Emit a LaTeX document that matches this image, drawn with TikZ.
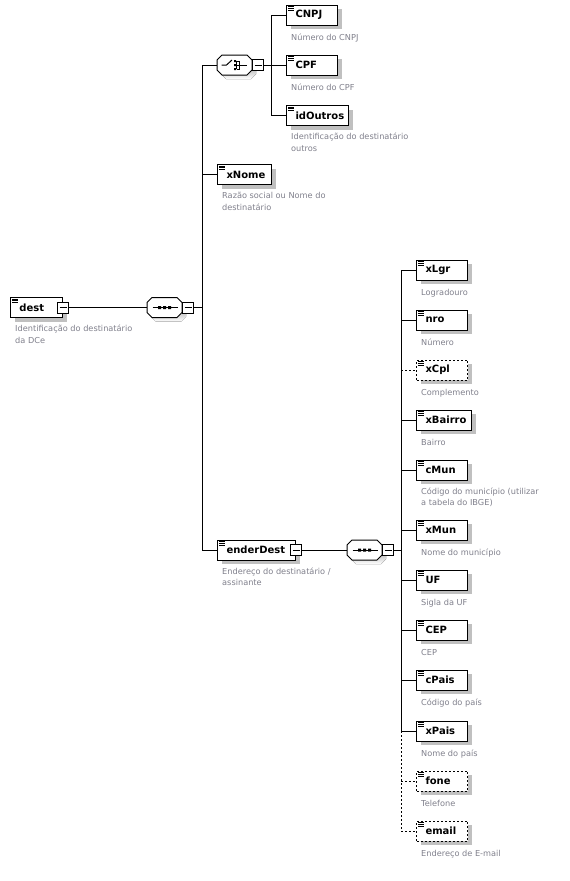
\documentclass[tikz,border=0pt]{standalone}
\usepackage{fontspec}
\setmainfont{DejaVu Sans}
\usetikzlibrary{shadows}
\definecolor{desc}{RGB}{128,128,140}
\definecolor{shade}{RGB}{192,192,192}
\newcommand\xsdelem[6][]{%
  \pgfmathsetmacro\xsdtw{#5-18}%
  \node[elem,#1,minimum width=#5pt,text width=\xsdtw pt] (#2) at (#3,#4) {#6};%
  \draw[line width=0.6pt] ([xshift=2pt,yshift=-2pt]#2.north west) -- ++(6,0)
    ([xshift=2pt,yshift=-3.7pt]#2.north west) -- ++(6,0)
    ([xshift=2pt,yshift=-5.4pt]#2.north west) -- ++(6,0);%
}
\newcommand\xsddesc[2]{%
  \node[descr,anchor=north west] (#1-d) at ([xshift=5pt,yshift=-7pt]#1.south west) {#2};%
}
\newcommand\xsdminus[2]{%
  \node[minus] (#2) at (#1) {};%
  \draw[line width=1pt] ([xshift=2.5pt]#2.west) -- ([xshift=-2.5pt]#2.east);%
}
\newcommand\xsdoct{(-12.5,-10) -- (12.5,-10) -- (17.5,-5) -- (17.5,5) -- (12.5,10) -- (-12.5,10) -- (-17.5,5) -- (-17.5,-5) -- cycle}
\newcommand\xsdcomp[3]{%
  \node[comp] (#1) at (#2,#3) {};%
  \begin{scope}[shift={(#1.center)}]
    \fill[shade,shift={(4,4)}] \xsdoct;
    \draw[line width=1pt,fill=white] \xsdoct;
  \end{scope}%
  \node[minus,anchor=west] (#1-m) at (#1.east) {};%
  \draw[line width=1pt] ([xshift=2.5pt]#1-m.west) -- ([xshift=-2.5pt]#1-m.east);%
}
\begin{document}
\begin{tikzpicture}[x=1pt,y=-1pt,
  elem/.style={draw, line width=1pt, fill=white, anchor=west, minimum height=20pt,
    inner xsep=0pt, inner ysep=0pt, align=left,
    font=\fontsize{10}{12}\selectfont\bfseries,
    drop shadow={shadow xshift=4pt,shadow yshift=-4pt,fill=shade,opacity=1}},
  opt/.style={dash pattern=on 2pt off 2pt},
  descr/.style={font=\fontsize{8.2}{11.5}\selectfont, text=desc, align=left, inner sep=0pt,
    execute at begin node=\strut},
  minus/.style={draw, line width=1pt, fill=white, minimum size=11pt, inner sep=0pt},
  comp/.style={minimum width=35pt, minimum height=20pt, inner sep=0pt},
  conn/.style={line width=1pt}]
\useasboundingbox[fill=white] (0,0) rectangle (570,881);

% root
\xsdelem{dest}{10}{307.5}{52}{dest}
\xsddesc{dest}{Identificação do destinatário\\da DCe}
\xsdminus{dest.east}{dest-m}

% sequence 1
\xsdcomp{s1}{164.5}{307.5}
\begin{scope}[shift={(s1.center)}]
  \draw[line width=1pt] (-12,0) -- (13,0);
  \fill (-6.5,-1.5) rectangle (-3.5,1.5) (-1.5,-1.5) rectangle (1.5,1.5) (3.5,-1.5) rectangle (6.5,1.5);
\end{scope}

% choice
\xsdcomp{ch}{234.5}{65}
\begin{scope}[shift={(ch.center)}]
  \draw[line width=1pt] (-13,0) -- (-8,0) -- (-2.5,-5);
  \fill (-0.5,-5) rectangle (1.5,-3) (-0.5,-1) rectangle (1.5,1) (-0.5,3) rectangle (1.5,5);
  \draw[line width=0.8pt] (2,-4) -- (2,4) (2,-4) -- (5,-4) (2,0) -- (5,0) (2,4) -- (5,4) (5,-4) -- (5,4) (5,0) -- (12,0);
\end{scope}

\xsdelem{CNPJ}{286}{15}{51}{CNPJ}
\xsddesc{CNPJ}{Número do CNPJ}
\xsdelem{CPF}{286}{65}{51}{CPF}
\xsddesc{CPF}{Número do CPF}
\xsdelem{idOutros}{286}{115.5}{62}{idOutros}
\xsddesc{idOutros}{Identificação do destinatário\\outros}

\xsdelem{xNome}{217}{174.5}{54}{xNome}
\xsddesc{xNome}{Razão social ou Nome do\\destinatário}

\xsdelem{enderDest}{217}{550}{78}{enderDest}
\xsddesc{enderDest}{Endereço do destinatário /\\assinante}
\xsdminus{enderDest.east}{enderDest-m}

% sequence 2
\xsdcomp{s2}{364.5}{550}
\begin{scope}[shift={(s2.center)}]
  \draw[line width=1pt] (-12,0) -- (13,0);
  \fill (-6.5,-1.5) rectangle (-3.5,1.5) (-1.5,-1.5) rectangle (1.5,1.5) (3.5,-1.5) rectangle (6.5,1.5);
\end{scope}

\xsdelem{xLgr}{416}{270}{51}{xLgr}
\xsddesc{xLgr}{Logradouro}
\xsdelem{nro}{416}{320}{51}{nro}
\xsddesc{nro}{Número}
\xsdelem[opt]{xCpl}{416}{370}{51}{xCpl}
\xsddesc{xCpl}{Complemento}
\xsdelem{xBairro}{416}{420}{55}{xBairro}
\xsddesc{xBairro}{Bairro}
\xsdelem{cMun}{416}{470}{51}{cMun}
\xsddesc{cMun}{Código do município (utilizar\\a tabela do IBGE)}
\xsdelem{xMun}{416}{530}{51}{xMun}
\xsddesc{xMun}{Nome do município}
\xsdelem{UF}{416}{580}{51}{UF}
\xsddesc{UF}{Sigla da UF}
\xsdelem{CEP}{416}{630}{51}{CEP}
\xsddesc{CEP}{CEP}
\xsdelem{cPais}{416}{680}{51}{cPais}
\xsddesc{cPais}{Código do país}
\xsdelem{xPais}{416}{731}{51}{xPais}
\xsddesc{xPais}{Nome do país}
\xsdelem[opt]{fone}{416}{781}{51}{fone}
\xsddesc{fone}{Telefone}
\xsdelem[opt]{email}{416}{831}{51}{email}
\xsddesc{email}{Endereço de E-mail}

% trunk coordinates
\coordinate (t1) at (202,307.5);
\coordinate (t2) at (271,65);
\coordinate (t3) at (401,550);

% connectors
\draw[conn] (dest-m.east) -- (s1.west);
\draw[conn] (s1-m.east) -- (t1);
\draw[conn] (ch.west -| t1) -- (enderDest.west -| t1);
\draw[conn] (ch.west -| t1) -- (ch.west);
\draw[conn] (xNome.west -| t1) -- (xNome.west);
\draw[conn] (enderDest.west -| t1) -- (enderDest.west);

\draw[conn] (ch-m.east) -- (t2);
\draw[conn] (CNPJ.west -| t2) -- (idOutros.west -| t2);
\draw[conn] (CNPJ.west -| t2) -- (CNPJ.west);
\draw[conn] (CPF.west -| t2) -- (CPF.west);
\draw[conn] (idOutros.west -| t2) -- (idOutros.west);

\draw[conn] (enderDest-m.east) -- (s2.west);
\draw[conn] (s2-m.east) -- (t3);
\draw[conn] (xLgr.west -| t3) -- (xPais.west -| t3);
\draw[conn,opt] (xPais.west -| t3) -- (email.west -| t3);
\foreach \n in {xLgr,nro,xBairro,cMun,xMun,UF,CEP,cPais,xPais}
  \draw[conn] (\n.west -| t3) -- (\n.west);
\foreach \n in {xCpl,fone,email}
  \draw[conn,opt] (\n.west -| t3) -- (\n.west);
\end{tikzpicture}
\end{document}
